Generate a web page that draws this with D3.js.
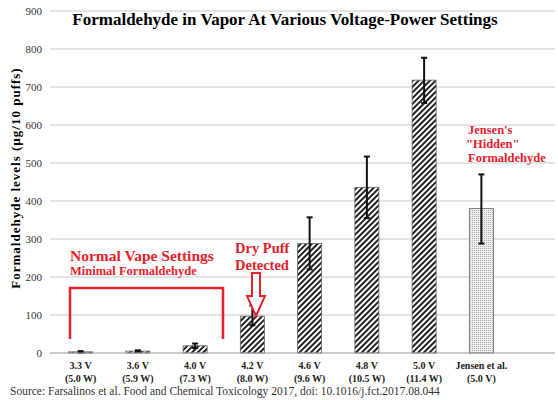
<!DOCTYPE html>
<html><head><meta charset="utf-8">
<script src="https://cdn.jsdelivr.net/npm/d3@7.9.0/dist/d3.min.js"></script>
<style>body{margin:0;background:#fff}text{font-family:"Liberation Serif","DejaVu Serif",serif}</style>
</head><body><svg width="558" height="400"></svg>
<script>
const volts = ['3.3 V', '3.6 V', '4.0 V', '4.2 V', '4.6 V', '4.8 V', '5.0 V', 'Jensen et al.'];
const watts = ['(5.0 W)', '(5.9 W)', '(7.3 W)', '(8.0 W)', '(9.6 W)', '(10.5 W)', '(11.4 W)', '(5.0 V)'];
const levels = [3, 5, 19, 97, 288, 436, 718, 380];
const errLow = [1, 3, 13, 73, 220, 355, 658, 288];
const errHigh = [5, 7, 25, 125, 357, 517, 777, 470];
const yTicks = [0, 100, 200, 300, 400, 500, 600, 700, 800, 900];

const svg = d3.select('svg');
const defs = svg.append('defs');
let hatch = defs.append('pattern').attr('id', 'hatch').attr('patternUnits', 'userSpaceOnUse')
    .attr('width', 4).attr('height', 4).attr('patternTransform', 'rotate(45)');
hatch.append('rect').attr('width', 4).attr('height', 4).attr('fill', '#fff');
hatch.append('rect').attr('width', 2).attr('height', 4).attr('fill', '#222');
let dots = defs.append('pattern').attr('id', 'dots').attr('patternUnits', 'userSpaceOnUse')
    .attr('width', 2).attr('height', 2);
dots.append('rect').attr('width', 2).attr('height', 2).attr('fill', '#eee');
dots.append('rect').attr('width', 1).attr('height', 1).attr('fill', '#aaa');

let x = d3.scaleBand().domain(volts).range([52, 510]).paddingInner(0.58).paddingOuter(0.29);
let y = d3.scaleLinear().domain([0, 900]).range([353, 11]);

// grid
svg.append('g').selectAll('line').data(yTicks.slice(1)).join('line')
   .attr('x1', 50).attr('x2', 555).attr('y1', d => y(d)).attr('y2', d => y(d))
   .attr('stroke', '#c8c8c8').attr('stroke-width', 1);

let yAxis = svg.append('g').attr('transform', 'translate(50,0)')
   .call(d3.axisLeft(y).tickValues(yTicks).tickSize(0).tickPadding(8));
yAxis.select('.domain').remove();
yAxis.selectAll('text').attr('font-size', 11).attr('fill', '#333');

svg.selectAll('rect.bar').data(levels).join('rect').attr('class', 'bar')
   .attr('x', (d, i) => x(volts[i])).attr('width', x.bandwidth())
   .attr('y', d => y(d)).attr('height', d => y(0) - y(d))
   .attr('fill', (d, i) => i == 7 ? 'url(#dots)' : 'url(#hatch)')
   .attr('stroke', '#666').attr('stroke-width', 0.8);

let eb = svg.append('g').attr('stroke', '#111').attr('stroke-width', 2);
levels.forEach((d, i) => {
    let cx = x(volts[i]) + x.bandwidth() / 2;
    eb.append('line').attr('x1', cx).attr('x2', cx).attr('y1', y(errLow[i])).attr('y2', y(errHigh[i]));
    eb.append('line').attr('x1', cx - 3).attr('x2', cx + 3).attr('y1', y(errHigh[i])).attr('y2', y(errHigh[i]));
    eb.append('line').attr('x1', cx - 3).attr('x2', cx + 3).attr('y1', y(errLow[i])).attr('y2', y(errLow[i]));
});

svg.append('line').attr('x1', 50).attr('x2', 555).attr('y1', y(0)).attr('y2', y(0)).attr('stroke', '#999');

let xl = svg.append('g').attr('font-size', 10).attr('font-weight', 'bold').attr('fill', '#222').attr('text-anchor', 'middle');
volts.forEach((v, i) => {
    let cx = x(v) + x.bandwidth() / 2;
    xl.append('text').attr('x', cx).attr('y', 369).text(v);
    xl.append('text').attr('x', cx).attr('y', 382).text(watts[i]);
});

svg.append('text').attr('x', 285).attr('y', 25).attr('text-anchor', 'middle')
   .attr('font-size', 17).attr('font-weight', 'bold').text('Formaldehyde in Vapor At Various Voltage-Power Settings');
svg.append('text').attr('transform', 'translate(20,178) rotate(-90)').attr('text-anchor', 'middle')
   .attr('font-size', 13).attr('letter-spacing', 1).attr('font-weight', 'bold').text('Formaldehyde levels (µg/10 puffs)');
svg.append('text').attr('x', 10).attr('y', 395).attr('font-size', 11.5).attr('fill', '#333')
   .text('Source: Farsalinos et al.  Food and Chemical Toxicology 2017, doi: 10.1016/j.fct.2017.08.044');

// annotations
const red = '#e8202a';
svg.append('path').attr('d', 'M70,339V288H223V339').attr('fill', 'none').attr('stroke', red).attr('stroke-width', 2.5);
let ann = svg.append('g').attr('fill', red).attr('font-weight', 'bold');
ann.append('text').attr('x', 70).attr('y', 261).attr('font-size', 15.5).text('Normal Vape Settings');
ann.append('text').attr('x', 70).attr('y', 275).attr('font-size', 12.5).text('Minimal Formaldehyde');
ann.append('text').attr('x', 235).attr('y', 253).attr('font-size', 14.5).text('Dry Puff');
ann.append('text').attr('x', 235).attr('y', 270).attr('font-size', 14.5).text('Detected');
svg.append('path').attr('d', 'M252,273H260V296H265L256,316L247,296H252Z')
   .attr('fill', '#fff').attr('stroke', red).attr('stroke-width', 2);
ann.append('text').attr('x', 468).attr('y', 134).attr('font-size', 12.5).text("Jensen's");
ann.append('text').attr('x', 466).attr('y', 148).attr('font-size', 12.5).text('"Hidden"');
ann.append('text').attr('x', 468).attr('y', 162).attr('font-size', 12.5).text('Formaldehyde');
</script></body></html>
